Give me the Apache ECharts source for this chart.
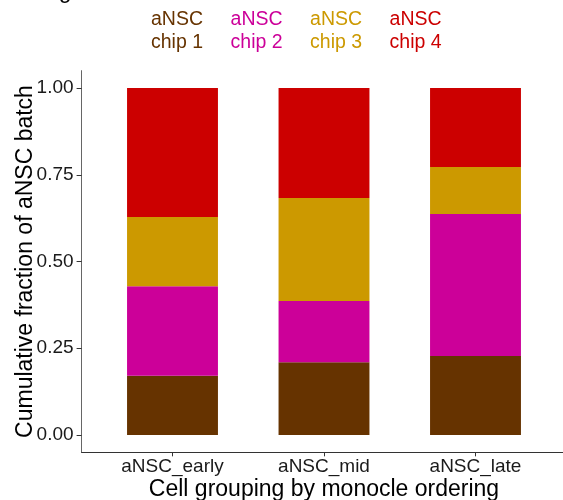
<!DOCTYPE html>
<html>
<head>
<meta charset="utf-8">
<script src="https://cdn.jsdelivr.net/npm/echarts@6/dist/echarts.min.js"></script>
<style>
html,body{margin:0;padding:0;background:#fff;}
#chart{width:563px;height:500px;}
</style>
</head>
<body>
<div id="chart"></div>
<script>
// Categories (cell grouping) and their positions on the x axis
const categories = ['aNSC_early', 'aNSC_mid', 'aNSC_late'];
const categoryPositions = [1, 2, 3];
// Batch names (legend labels)
const batches = ['aNSC\nchip 1', 'aNSC\nchip 2', 'aNSC\nchip 3', 'aNSC\nchip 4'];
const batchColors = ['#663300', '#CC0099', '#CC9900', '#CC0000'];
// Fraction of each batch within each category (bottom to top)
const chip1 = [0.171, 0.210, 0.228];
const chip2 = [0.258, 0.176, 0.409];
const chip3 = [0.199, 0.297, 0.135];
const chip4 = [0.372, 0.317, 0.228];
const yTicks = [0, 0.25, 0.5, 0.75, 1];
const titleText = 'Sequencing batches';

const seriesValues = [chip1, chip2, chip3, chip4];

const chart = echarts.init(document.getElementById('chart'), null, {renderer: 'canvas'});
const font = '"Liberation Sans", Arial, Helvetica, sans-serif';

const series = batches.map((name, i) => ({
  name: name,
  type: 'bar',
  stack: 'total',
  barWidth: '60%',
  itemStyle: {color: batchColors[i]},
  emphasis: {disabled: true},
  dimensions: ['frac', 'pos'],
  encode: {x: 'pos', y: 'frac'},
  data: seriesValues[i].map((v, j) => [v, categoryPositions[j]])
}));

chart.setOption({
  animation: false,
  textStyle: {fontFamily: font},
  title: {
    text: titleText,
    left: -50,
    top: -20,
    padding: 0,
    textStyle: {fontFamily: font, fontSize: 23, fontWeight: 'normal', color: '#000'}
  },
  legend: {
    data: batches.map((b, i) => ({name: b, textStyle: {color: batchColors[i]}})),
    icon: 'none',
    itemWidth: 0,
    itemHeight: 10,
    itemGap: 22.5,
    left: 146,
    top: 8,
    padding: 0,
    selectedMode: false,
    textStyle: {fontFamily: font, fontSize: 19.5, lineHeight: 23}
  },
  grid: {left: 81.6, top: 70.65, width: 484.8, height: 381.7, containLabel: false, outerBoundsMode: 'none'},
  xAxis: {
    type: 'value',
    min: 0.4,
    max: 3.6,
    name: 'Cell grouping by monocle ordering',
    nameLocation: 'middle',
    nameGap: 26,
    nameMoveOverlap: false,
    nameTextStyle: {fontFamily: font, fontSize: 23, color: '#000'},
    axisLine: {show: true, onZero: false, lineStyle: {color: '#333', width: 1}},
    axisTick: {show: true, length: 4, customValues: categoryPositions, lineStyle: {color: '#333'}},
    axisLabel: {
      customValues: categoryPositions,
      formatter: v => categories[categoryPositions.indexOf(Math.round(v))] || '',
      fontFamily: font, fontSize: 19, color: '#1a1a1a', margin: 5
    },
    splitLine: {show: false}
  },
  yAxis: {
    type: 'value',
    min: -0.05,
    max: 1.05,
    name: 'Cumulative fraction of aNSC batch',
    nameLocation: 'middle',
    nameGap: 44,
    nameMoveOverlap: false,
    nameTextStyle: {fontFamily: font, fontSize: 23, color: '#000'},
    axisLine: {show: true, onZero: false, lineStyle: {color: '#666', width: 1}},
    axisTick: {show: true, length: 5, customValues: yTicks, lineStyle: {color: '#333'}},
    axisLabel: {
      customValues: yTicks,
      formatter: v => v.toFixed(2),
      fontFamily: font, fontSize: 19, color: '#1a1a1a', margin: 8
    },
    splitLine: {show: false}
  },
  series: series
});
</script>
</body>
</html>
